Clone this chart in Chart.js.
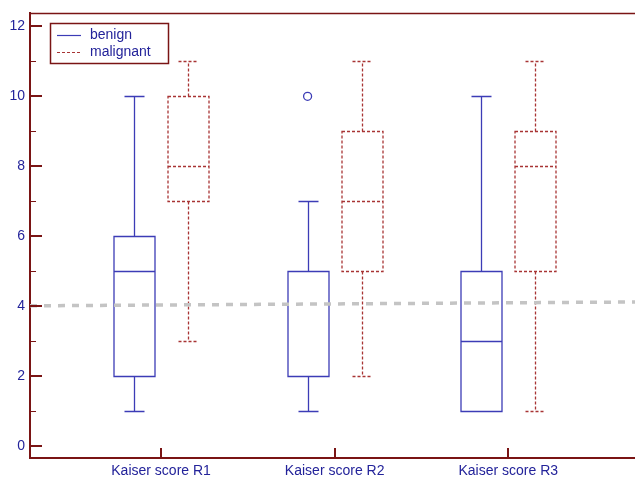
<!DOCTYPE html>
<html>
<head>
<meta charset="utf-8">
<script src="https://cdn.jsdelivr.net/npm/chart.js@4.4.0/dist/chart.umd.min.js"></script>
<style>
  html, body { margin: 0; padding: 0; background: #fff; overflow: hidden; }
  #wrap { width: 635px; height: 478px; }
</style>
</head>
<body>
<div id="wrap"><canvas id="c"></canvas></div>
<script>
// categorias del eje x
const categories = ['Kaiser score R1', 'Kaiser score R2', 'Kaiser score R3'];
// cada caja: min, q1, mediana, q3, max
const benign = [[1, 2, 5, 6, 10], [1, 2, 2, 5, 7], [1, 1, 3, 5, 10]];
const malignant = [[3, 7, 8, 10, 11], [2, 5, 7, 9, 11], [1, 5, 8, 9, 11]];
const benignOutliers = [[], [10], []];
const yTicks = [0, 2, 4, 6, 8, 10, 12];
const yMinorTicks = [1, 3, 5, 7, 9, 11];
const cutoff = [4.01, 4.12]; // linea gris, izquierda y derecha

const AXIS = '#7a1414';
const TEXT = '#23239a';
const BLUE = '#3c3cb6';
const RED = '#a83434';
const X_MIN = 0.245, X_MAX = 3.73;
const SHIFT = 0.156; // separacion de las cajas respecto a la categoria

// cajas y bigotes dibujados con las escalas del chart
const boxPlugin = {
  id: 'boxes',
  beforeDatasetsDraw(chart) {
    const { ctx, scales: { x, y } } = chart;
    const drawBox = (s, pos, color, dash) => {
      const px = Math.round(x.getPixelForValue(pos)) + 0.5;
      const half = 20.5, cap = 10;
      const [mn, q1, md, q3, mx] = s.map(v => Math.round(y.getPixelForValue(v)) + 0.5);
      ctx.save();
      ctx.strokeStyle = color;
      ctx.lineWidth = 1.3;
      ctx.setLineDash(dash);
      ctx.beginPath();
      ctx.rect(px - half, q3, 2 * half, q1 - q3);
      ctx.moveTo(px - half, md); ctx.lineTo(px + half, md);
      ctx.moveTo(px, q3); ctx.lineTo(px, mx);
      ctx.moveTo(px - cap, mx); ctx.lineTo(px + cap, mx);
      ctx.moveTo(px, q1); ctx.lineTo(px, mn);
      ctx.moveTo(px - cap, mn); ctx.lineTo(px + cap, mn);
      ctx.stroke();
      ctx.restore();
    };
    categories.forEach((c, i) => {
      drawBox(benign[i], i + 1 - SHIFT, BLUE, []);
      drawBox(malignant[i], i + 1 + SHIFT, RED, [3, 2]);
    });
  },
  afterDraw(chart) {
    const { ctx, chartArea: a, scales: { x, y } } = chart;
    ctx.save();
    ctx.strokeStyle = AXIS;
    // borde de arriba
    ctx.lineWidth = 1.5;
    ctx.beginPath();
    ctx.moveTo(a.left, a.top); ctx.lineTo(a.right, a.top);
    ctx.stroke();
    // ticks hacia adentro
    ctx.lineWidth = 2;
    ctx.beginPath();
    yTicks.forEach(v => {
      const py = Math.round(y.getPixelForValue(v));
      ctx.moveTo(a.left, py); ctx.lineTo(a.left + 12, py);
    });
    categories.forEach((c, i) => {
      const px = Math.round(x.getPixelForValue(i + 1));
      ctx.moveTo(px, a.bottom); ctx.lineTo(px, a.bottom - 10);
    });
    ctx.stroke();
    ctx.lineWidth = 1.2;
    ctx.beginPath();
    yMinorTicks.forEach(v => {
      const py = Math.round(y.getPixelForValue(v)) + 0.5;
      ctx.moveTo(a.left, py); ctx.lineTo(a.left + 6, py);
    });
    ctx.stroke();

    // leyenda
    ctx.lineWidth = 1.5;
    ctx.strokeRect(50.5, 23.5, 118, 40);
    ctx.lineWidth = 1.2;
    ctx.strokeStyle = BLUE;
    ctx.beginPath(); ctx.moveTo(57, 35.5); ctx.lineTo(81, 35.5); ctx.stroke();
    ctx.strokeStyle = RED;
    ctx.setLineDash([3, 2]);
    ctx.beginPath(); ctx.moveTo(57, 52.5); ctx.lineTo(81, 52.5); ctx.stroke();
    ctx.setLineDash([]);
    ctx.fillStyle = TEXT;
    ctx.font = '14px "Liberation Sans", Arial, sans-serif';
    ctx.textBaseline = 'middle';
    ctx.fillText('benign', 90, 35);
    ctx.fillText('malignant', 90, 52);
    ctx.restore();
  }
};

const ctx = document.getElementById('c').getContext('2d');
new Chart(ctx, {
  type: 'scatter',
  data: {
    datasets: [
      {
        label: 'outliers',
        data: benignOutliers.flatMap((arr, i) => arr.map(v => ({ x: i + 1 - SHIFT, y: v }))),
        pointRadius: 4,
        pointBorderColor: BLUE,
        pointBackgroundColor: '#fff',
        pointBorderWidth: 1.3
      },
      {
        type: 'line',
        label: 'cutoff',
        data: [{ x: X_MIN, y: cutoff[0] }, { x: X_MAX, y: cutoff[1] }],
        borderColor: '#c4c4c4',
        borderWidth: 3.5,
        borderDash: [7, 7],
        pointRadius: 0,
        fill: false
      }
    ]
  },
  options: {
    responsive: true,
    maintainAspectRatio: false,
    animation: false,
    layout: { autoPadding: false, padding: { top: 11, right: 0, left: 0, bottom: 0 } },
    plugins: { legend: { display: false }, tooltip: { enabled: false } },
    scales: {
      x: {
        type: 'linear',
        min: X_MIN,
        max: X_MAX,
        grid: { display: false, drawTicks: false },
        border: { color: AXIS, width: 2 },
        ticks: {
          color: TEXT,
          font: { family: '"Liberation Sans", Arial, sans-serif', size: 14 },
          padding: 5,
          maxRotation: 0,
          autoSkip: false,
          callback: v => categories[v - 1]
        },
        afterBuildTicks: s => { s.ticks = categories.map((c, i) => ({ value: i + 1 })); },
        afterFit: s => { s.height = 20; }
      },
      y: {
        min: -0.34,
        max: 12.37,
        grid: { display: false, drawTicks: false },
        border: { color: AXIS, width: 2 },
        ticks: {
          color: TEXT,
          font: { family: '"Liberation Sans", Arial, sans-serif', size: 14 },
          padding: 5,
          autoSkip: false
        },
        afterBuildTicks: s => { s.ticks = yTicks.map(v => ({ value: v })); },
        afterFit: s => { s.width = 30; }
      }
    }
  },
  plugins: [boxPlugin]
});
</script>
</body>
</html>
